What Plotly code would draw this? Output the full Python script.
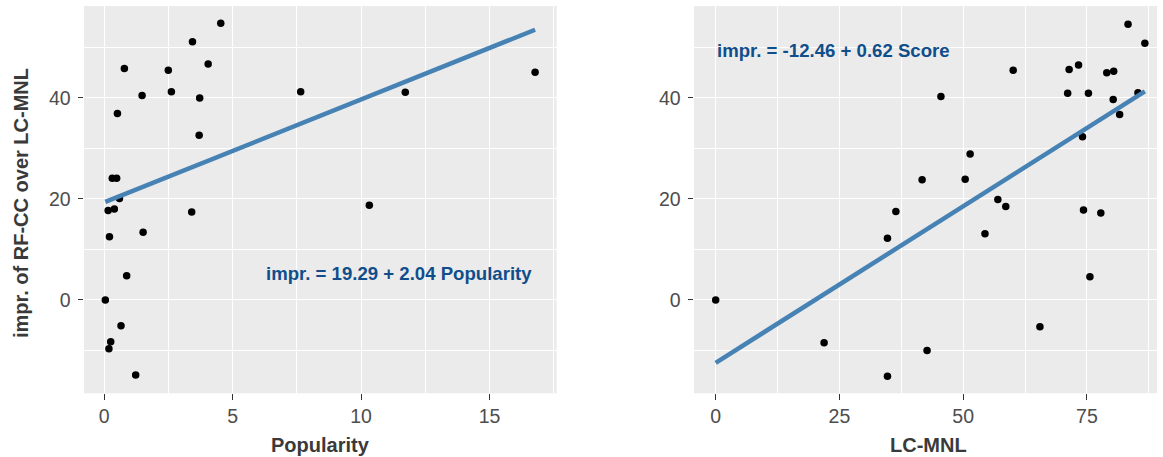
import plotly.graph_objects as go

# ---- data ----
pop_x = [4.54, 3.44, 4.05, 0.79, 2.50, 16.77, 2.62, 7.65, 11.72, 1.48, 3.72, 0.52, 3.70,
         0.32, 0.49, 0.60, 10.32, 0.40, 0.16, 3.41, 1.52, 0.21, 0.88, 0.05, 0.66, 0.26,
         0.19, 1.23]
pop_y = [54.8, 51.1, 46.7, 45.8, 45.5, 45.1, 41.2, 41.2, 41.1, 40.5, 40.0, 36.9, 32.6,
         24.1, 24.1, 20.1, 18.75, 18.0, 17.7, 17.4, 13.4, 12.5, 4.8, 0.0, -5.1, -8.3,
         -9.7, -14.9]

lc_x = [83.3, 86.7, 73.3, 60.1, 71.4, 80.4, 79.0, 85.3, 71.1, 75.3, 45.5, 80.3, 81.6,
        74.1, 51.4, 41.7, 50.4, 57.0, 58.6, 74.3, 36.4, 77.8, 54.4, 34.7, 75.6, 0.0,
        65.5, 21.9, 42.7, 34.7]
lc_y = [54.6, 50.8, 46.5, 45.5, 45.6, 45.3, 45.0, 41.0, 40.9, 40.9, 40.3, 39.7, 36.7,
        32.3, 28.9, 23.8, 23.9, 19.9, 18.5, 17.8, 17.5, 17.2, 13.1, 12.2, 4.6, 0.0,
        -5.3, -8.5, -10.0, -15.1]

# fitted coefficients as printed in the chart
pop_fit = (19.29, 2.04)
lc_fit = (-12.46, 0.62)

pop_ticks = [0, 5, 10, 15]
pop_minor = [2.5, 7.5, 12.5, 17.5]
lc_ticks = [0, 25, 50, 75]
lc_minor = [12.5, 37.5, 62.5, 87.5]
y_ticks = [0, 20, 40]
y_minor = [-10, 10, 30, 50]

W, H = 1163, 457
FONT = "Liberation Sans, Arial, sans-serif"
PANEL = "#EBEBEB"
LINE = "#4682B4"
ANN = "#104E8B"
TITLE_C = "#3a3a3a"

fig = go.Figure()

fig.add_trace(go.Scatter(x=pop_x, y=pop_y, mode="markers",
                         marker=dict(color="black", size=7.5), xaxis="x", yaxis="y",
                         showlegend=False, hoverinfo="skip"))
lx = [min(pop_x), max(pop_x)]
fig.add_trace(go.Scatter(x=lx, y=[pop_fit[0] + pop_fit[1] * v for v in lx], mode="lines",
                         line=dict(color=LINE, width=4.5), xaxis="x", yaxis="y",
                         showlegend=False, hoverinfo="skip"))

fig.add_trace(go.Scatter(x=lc_x, y=lc_y, mode="markers",
                         marker=dict(color="black", size=7.5), xaxis="x2", yaxis="y2",
                         showlegend=False, hoverinfo="skip"))
rx = [min(lc_x), max(lc_x)]
fig.add_trace(go.Scatter(x=rx, y=[lc_fit[0] + lc_fit[1] * v for v in rx], mode="lines",
                         line=dict(color=LINE, width=4.5), xaxis="x2", yaxis="y2",
                         showlegend=False, hoverinfo="skip"))


def axis(domain, rng, ticks, minor, anchor, standoff):
    return dict(domain=domain, range=rng, tickvals=ticks, ticktext=[str(t) for t in ticks],
                showgrid=True, gridcolor="white", gridwidth=1.3, zeroline=False,
                showline=False, ticks="outside", ticklen=5.5, tickwidth=1.3,
                tickcolor="#333333", ticklabelstandoff=standoff,
                tickfont=dict(family=FONT, size=19.5, color="#4d4d4d"),
                minor=dict(tickvals=minor, showgrid=True, gridcolor="white", gridwidth=0.6,
                           ticks=""),
                anchor=anchor, fixedrange=True)


ydom = [(H - 393.3) / H, (H - 6) / H]
title_font = dict(family=FONT, size=20, color=TITLE_C)
ann_font = dict(family=FONT, size=18.6, color=ANN)
fig.update_layout(
    width=W, height=H, margin=dict(l=0, r=0, t=0, b=0),
    paper_bgcolor="white", plot_bgcolor=PANEL,
    font=dict(family=FONT),
    xaxis=axis([84 / W, 556.7 / W], [-0.78, 17.61], pop_ticks, pop_minor, "y", 0),
    yaxis=axis(ydom, [-18.5, 58.2], y_ticks, y_minor, "x", 3),
    xaxis2=axis([694 / W, 1157 / W], [-4.38, 89.15], lc_ticks, lc_minor, "y2", 0),
    yaxis2=axis(ydom, [-18.5, 58.2], y_ticks, y_minor, "x2", 3),
    annotations=[
        dict(text="<b>impr. = 19.29 + 2.04 Popularity</b>", x=11.48, y=5.3, xref="x", yref="y",
             xanchor="center", yanchor="middle", showarrow=False, font=ann_font),
        dict(text="<b>impr. = -12.46 + 0.62 Score</b>", x=23.9, y=49.4, xref="x2", yref="y2",
             xanchor="center", yanchor="middle", showarrow=False, font=ann_font),
        dict(text="<b>Popularity</b>", x=320.5 / W, y=(H - 445) / H, xref="paper", yref="paper",
             xanchor="center", yanchor="middle", showarrow=False, font=title_font),
        dict(text="<b>LC-MNL</b>", x=928 / W, y=(H - 445) / H, xref="paper", yref="paper",
             xanchor="center", yanchor="middle", showarrow=False, font=title_font),
        dict(text="<b>impr. of RF-CC over LC-MNL</b>", x=21 / W, y=(H - 203) / H,
             xref="paper", yref="paper", textangle=-90, xanchor="center", yanchor="middle",
             showarrow=False, font=title_font),
    ],
)

fig.write_html("out.html", config={"displayModeBar": False},
               post_script="document.body.style.margin='0';")
